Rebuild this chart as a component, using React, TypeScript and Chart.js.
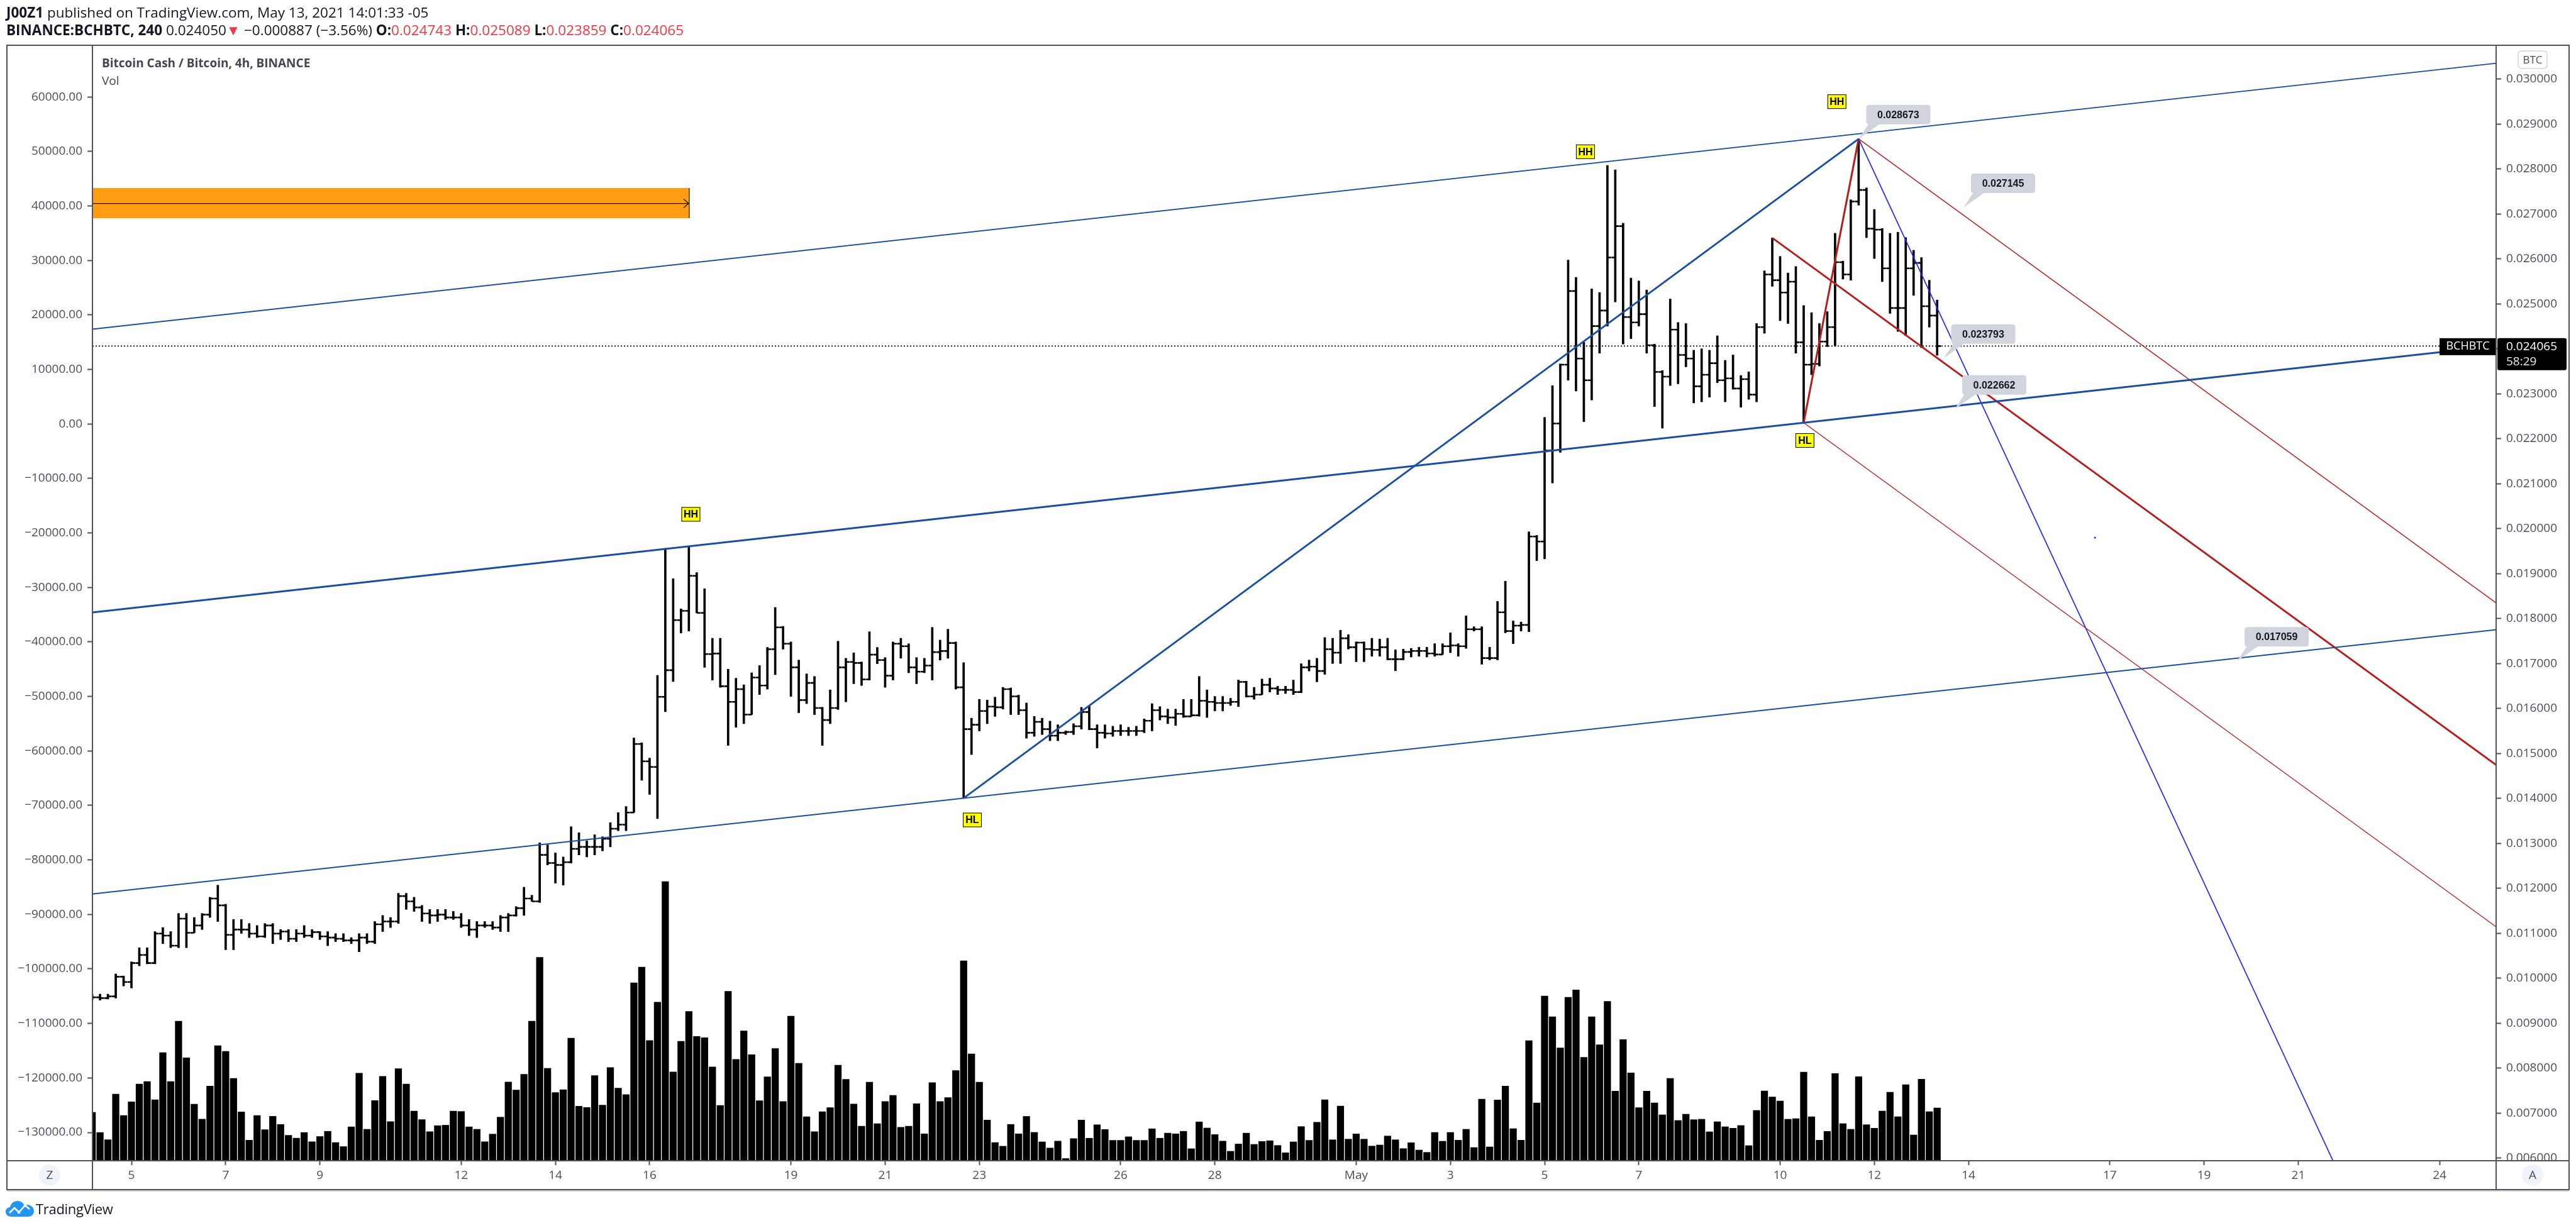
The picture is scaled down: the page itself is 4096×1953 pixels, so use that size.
import React, { useEffect, useRef } from 'react';
import { Chart, registerables } from 'chart.js';

Chart.register(...registerables);

// ---------- time axis (hours since Apr 5, 00:00) ----------
const FIRST_BAR_HOUR = -20; // first 4h bar (Apr 4)
const BAR_HOURS_STEP = 4;
const X_MIN = -19.87;
const X_MAX = 1204.8;

const dateTickHours = [0, 48, 96, 168, 216, 264, 336, 384, 432, 504, 552, 624, 672, 720, 768, 840, 888, 936, 1008, 1056, 1104, 1176];
const dateTickLabels = ['5', '7', '9', '12', '14', '16', '19', '21', '23', '26', '28', 'May', '3', '5', '7', '10', '12', '14', '17', '19', '21', '24'];

// ---------- price axis (BTC) ----------
const PRICE_MIN = 0.005944;
const PRICE_MAX = 0.030755;
const priceTicks = [0.006, 0.007, 0.008, 0.009, 0.010, 0.011, 0.012, 0.013, 0.014, 0.015, 0.016, 0.017, 0.018, 0.019, 0.020, 0.021, 0.022, 0.023, 0.024, 0.025, 0.026, 0.027, 0.028, 0.029, 0.030];

// ---------- left (overlay) axis ----------
const LEFT_MIN = -135192;
const LEFT_MAX = 69496;
const leftTicks = [-130000, -120000, -110000, -100000, -90000, -80000, -70000, -60000, -50000, -40000, -30000, -20000, -10000, 0, 10000, 20000, 30000, 40000, 50000, 60000];

// ---------- volume axis (thousand BCH) ----------
const VOL_MAX = 177.4;

// ---------- OHLC (BCHBTC, 4h) ----------
const opens = [
  0.009600, 0.009578, 0.009561, 0.009600, 0.010036, 0.009920, 0.010341, 0.010520, 0.010341, 0.010996,
  0.010951, 0.010727, 0.011328, 0.011014, 0.011176, 0.011418, 0.011777, 0.011624, 0.010969, 0.011086,
  0.011086, 0.010996, 0.010933, 0.011176, 0.010996, 0.011041, 0.010880, 0.010996, 0.010951, 0.011030,
  0.010933, 0.010907, 0.010880, 0.010844, 0.010844, 0.010907, 0.010817, 0.011203, 0.011265, 0.011265,
  0.011831, 0.011714, 0.011579, 0.011445, 0.011400, 0.011418, 0.011355, 0.011355, 0.011176, 0.011086,
  0.011176, 0.011176, 0.011131, 0.011355, 0.011400, 0.011561, 0.011777, 0.011714, 0.012746, 0.012566,
  0.012522, 0.012584, 0.012881, 0.012925, 0.012925, 0.012925, 0.013105, 0.013329, 0.013419, 0.013688,
  0.015213, 0.014828, 0.014702, 0.016263, 0.016855, 0.017968, 0.018174, 0.018955, 0.018130, 0.017214,
  0.017225, 0.016498, 0.016150, 0.016433, 0.015867, 0.016692, 0.016514, 0.017322, 0.017807, 0.017443,
  0.016918, 0.016191, 0.016571, 0.016013, 0.015746, 0.016013, 0.016918, 0.017039, 0.017015, 0.016651,
  0.017201, 0.017080, 0.016732, 0.017443, 0.017387, 0.016918, 0.016821, 0.016958, 0.017257, 0.017282,
  0.017459, 0.016474, 0.015544, 0.015641, 0.015948, 0.016045, 0.016029, 0.016433, 0.016272, 0.015965,
  0.015463, 0.015706, 0.015544, 0.015399, 0.015463, 0.015480, 0.015609, 0.015924, 0.015544, 0.015463,
  0.015447, 0.015504, 0.015504, 0.015504, 0.015504, 0.015730, 0.015965, 0.015827, 0.015803, 0.015884,
  0.015827, 0.015851, 0.016175, 0.016150, 0.016126, 0.016126, 0.016150, 0.016595, 0.016272, 0.016312,
  0.016530, 0.016449, 0.016417, 0.016417, 0.016369, 0.016918, 0.016934, 0.016837, 0.017322, 0.017244,
  0.017565, 0.017365, 0.017469, 0.017324, 0.017308, 0.017365, 0.017100, 0.017100, 0.017260, 0.017284,
  0.017284, 0.017228, 0.017204, 0.017389, 0.017405, 0.017389, 0.017766, 0.017766, 0.017124, 0.017124,
  0.018143, 0.017726, 0.017846, 0.017862, 0.019829, 0.019717, 0.021740, 0.022342, 0.023651, 0.025288,
  0.023787, 0.023305, 0.024509, 0.024855, 0.026035, 0.026733, 0.024710, 0.024590, 0.024774, 0.024084,
  0.023490, 0.023385, 0.024429, 0.023867, 0.023787, 0.023169, 0.023426, 0.023683, 0.023305, 0.023345,
  0.023121, 0.023329, 0.022984, 0.024485, 0.025657, 0.025529, 0.025256, 0.025497, 0.024148, 0.023651,
  0.023667, 0.024164, 0.024485, 0.025930, 0.025657, 0.027279, 0.027536, 0.026677, 0.026653, 0.025794,
  0.024911, 0.024911, 0.025794, 0.025914, 0.024951, 0.024743,
];

const highs = [
  0.009650, 0.009650, 0.009650, 0.010099, 0.010054, 0.010368, 0.010682, 0.010682, 0.011041, 0.011131,
  0.011041, 0.011445, 0.011445, 0.011355, 0.011445, 0.011804, 0.012073, 0.011650, 0.011310, 0.011310,
  0.011221, 0.011176, 0.011221, 0.011221, 0.011086, 0.011086, 0.011086, 0.011176, 0.011086, 0.011041,
  0.011041, 0.010996, 0.010996, 0.010907, 0.010996, 0.010996, 0.011265, 0.011400, 0.011355, 0.011893,
  0.011893, 0.011804, 0.011624, 0.011534, 0.011534, 0.011534, 0.011490, 0.011445, 0.011310, 0.011265,
  0.011265, 0.011265, 0.011400, 0.011445, 0.011597, 0.012028, 0.011849, 0.013015, 0.012970, 0.012791,
  0.012701, 0.013374, 0.013239, 0.013060, 0.013195, 0.013150, 0.013464, 0.013688, 0.013823, 0.015348,
  0.015240, 0.014899, 0.016739, 0.019565, 0.018892, 0.018219, 0.019610, 0.019027, 0.018668, 0.017565,
  0.017565, 0.016878, 0.016676, 0.016530, 0.016797, 0.016958, 0.017362, 0.018251, 0.017830, 0.017484,
  0.017080, 0.016773, 0.016716, 0.016029, 0.016417, 0.017500, 0.017120, 0.017241, 0.017039, 0.017710,
  0.017362, 0.017136, 0.017484, 0.017565, 0.017443, 0.017136, 0.017120, 0.017807, 0.017524, 0.017767,
  0.017484, 0.017023, 0.015787, 0.016207, 0.016191, 0.016255, 0.016474, 0.016460, 0.016300, 0.016126,
  0.015827, 0.015787, 0.015722, 0.015641, 0.015504, 0.015665, 0.016029, 0.016070, 0.015641, 0.015641,
  0.015609, 0.015641, 0.015585, 0.015609, 0.015771, 0.016110, 0.016045, 0.015989, 0.015989, 0.016207,
  0.016207, 0.016716, 0.016417, 0.016272, 0.016272, 0.016230, 0.016635, 0.016611, 0.016474, 0.016659,
  0.016676, 0.016498, 0.016498, 0.016635, 0.016999, 0.017080, 0.017120, 0.017581, 0.017565, 0.017742,
  0.017645, 0.017485, 0.017485, 0.017565, 0.017549, 0.017565, 0.017308, 0.017324, 0.017340, 0.017365,
  0.017365, 0.017445, 0.017445, 0.017686, 0.017445, 0.018063, 0.017822, 0.017822, 0.017365, 0.018384,
  0.018834, 0.017951, 0.017927, 0.019934, 0.019853, 0.022478, 0.023185, 0.023667, 0.025979, 0.025593,
  0.024148, 0.025336, 0.025256, 0.028082, 0.027986, 0.026797, 0.025577, 0.025513, 0.025312, 0.024108,
  0.023520, 0.025112, 0.024590, 0.024566, 0.023972, 0.024004, 0.023972, 0.024293, 0.023747, 0.023867,
  0.023410, 0.023490, 0.024566, 0.025738, 0.026470, 0.026059, 0.025690, 0.025834, 0.024967, 0.024807,
  0.024566, 0.024831, 0.026573, 0.025955, 0.027319, 0.028673, 0.027584, 0.027103, 0.026680, 0.026573,
  0.026597, 0.026476, 0.026195, 0.026035, 0.025529, 0.025089,
];

const lows = [
  0.009516, 0.009516, 0.009540, 0.009561, 0.009830, 0.009785, 0.010278, 0.010323, 0.010323, 0.010772,
  0.010682, 0.010682, 0.010682, 0.011014, 0.011086, 0.011355, 0.011265, 0.010637, 0.010637, 0.011000,
  0.010907, 0.010907, 0.010907, 0.010772, 0.010862, 0.010817, 0.010817, 0.010907, 0.010907, 0.010862,
  0.010727, 0.010817, 0.010817, 0.010772, 0.010592, 0.010772, 0.010772, 0.011041, 0.011131, 0.011221,
  0.011534, 0.011490, 0.011265, 0.011221, 0.011265, 0.011310, 0.011310, 0.011131, 0.010951, 0.010907,
  0.011131, 0.011086, 0.011041, 0.011041, 0.011382, 0.011400, 0.011714, 0.011687, 0.012522, 0.012118,
  0.012073, 0.012566, 0.012746, 0.012701, 0.012746, 0.012836, 0.012925, 0.013284, 0.013284, 0.013688,
  0.014406, 0.014092, 0.013553, 0.015931, 0.016604, 0.017681, 0.017726, 0.018130, 0.016918, 0.016635,
  0.016474, 0.015181, 0.015585, 0.015665, 0.015867, 0.016312, 0.016433, 0.016756, 0.017322, 0.016272,
  0.015908, 0.016110, 0.015867, 0.015181, 0.015665, 0.015980, 0.016150, 0.016554, 0.016514, 0.016635,
  0.016999, 0.016474, 0.016635, 0.017120, 0.016797, 0.016554, 0.016797, 0.016635, 0.017080, 0.017120,
  0.016433, 0.014009, 0.014978, 0.015504, 0.015665, 0.015827, 0.015989, 0.015867, 0.015867, 0.015342,
  0.015383, 0.015423, 0.015286, 0.015286, 0.015423, 0.015423, 0.015544, 0.015528, 0.015124, 0.015342,
  0.015383, 0.015399, 0.015399, 0.015399, 0.015463, 0.015504, 0.015746, 0.015665, 0.015625, 0.015803,
  0.015827, 0.015830, 0.015803, 0.015948, 0.015948, 0.016070, 0.016045, 0.016255, 0.016207, 0.016312,
  0.016369, 0.016312, 0.016336, 0.016312, 0.016352, 0.016837, 0.016595, 0.016763, 0.017003, 0.017003,
  0.017324, 0.017043, 0.017043, 0.017164, 0.017164, 0.017084, 0.016843, 0.017084, 0.017148, 0.017164,
  0.017148, 0.017164, 0.017204, 0.017244, 0.017164, 0.017340, 0.017726, 0.016987, 0.017084, 0.017084,
  0.017686, 0.017445, 0.017726, 0.017710, 0.019291, 0.019331, 0.021017, 0.021700, 0.023305, 0.023064,
  0.022382, 0.022864, 0.023907, 0.024509, 0.025047, 0.024108, 0.024229, 0.024509, 0.023907, 0.022719,
  0.022238, 0.023185, 0.023225, 0.023602, 0.022800, 0.022824, 0.022928, 0.023249, 0.022824, 0.023105,
  0.022703, 0.022880, 0.022824, 0.024349, 0.025393, 0.024630, 0.024566, 0.023907, 0.022360, 0.023426,
  0.023620, 0.024052, 0.024068, 0.025553, 0.025529, 0.027199, 0.026476, 0.026011, 0.025497, 0.024790,
  0.024389, 0.024293, 0.025192, 0.024028, 0.024485, 0.023859,
];

const closes = [
  0.009578, 0.009561, 0.009600, 0.010036, 0.009920, 0.010341, 0.010520, 0.010341, 0.010996, 0.010951,
  0.010727, 0.011328, 0.011014, 0.011176, 0.011418, 0.011777, 0.011624, 0.010969, 0.011086, 0.011086,
  0.010996, 0.010933, 0.011176, 0.010996, 0.011041, 0.010880, 0.010996, 0.010951, 0.011030, 0.010933,
  0.010907, 0.010880, 0.010844, 0.010844, 0.010907, 0.010817, 0.011203, 0.011265, 0.011265, 0.011831,
  0.011714, 0.011579, 0.011445, 0.011400, 0.011418, 0.011355, 0.011355, 0.011176, 0.011086, 0.011176,
  0.011176, 0.011131, 0.011355, 0.011400, 0.011561, 0.011777, 0.011714, 0.012746, 0.012566, 0.012522,
  0.012584, 0.012881, 0.012925, 0.012925, 0.012925, 0.013105, 0.013329, 0.013419, 0.013688, 0.015213,
  0.014828, 0.014702, 0.016263, 0.016855, 0.017968, 0.018174, 0.018955, 0.018130, 0.017214, 0.017225,
  0.016498, 0.016150, 0.016433, 0.015867, 0.016692, 0.016514, 0.017322, 0.017807, 0.017443, 0.016918,
  0.016191, 0.016571, 0.016013, 0.015746, 0.016013, 0.016918, 0.017039, 0.017015, 0.016651, 0.017201,
  0.017080, 0.016732, 0.017443, 0.017387, 0.016918, 0.016821, 0.016958, 0.017257, 0.017282, 0.017459,
  0.016474, 0.015544, 0.015641, 0.015948, 0.016045, 0.016029, 0.016433, 0.016272, 0.015965, 0.015463,
  0.015706, 0.015544, 0.015399, 0.015463, 0.015480, 0.015609, 0.015924, 0.015544, 0.015463, 0.015447,
  0.015504, 0.015504, 0.015504, 0.015504, 0.015730, 0.015965, 0.015827, 0.015803, 0.015884, 0.015827,
  0.015851, 0.016175, 0.016150, 0.016126, 0.016126, 0.016150, 0.016595, 0.016272, 0.016312, 0.016530,
  0.016449, 0.016417, 0.016417, 0.016369, 0.016918, 0.016934, 0.016837, 0.017322, 0.017244, 0.017565,
  0.017365, 0.017469, 0.017324, 0.017308, 0.017365, 0.017100, 0.017100, 0.017260, 0.017284, 0.017284,
  0.017228, 0.017204, 0.017389, 0.017405, 0.017389, 0.017766, 0.017766, 0.017124, 0.017124, 0.018143,
  0.017726, 0.017846, 0.017862, 0.019829, 0.019717, 0.021740, 0.022342, 0.023651, 0.025288, 0.023787,
  0.023305, 0.024509, 0.024855, 0.026035, 0.026733, 0.024710, 0.024590, 0.024774, 0.024084, 0.023490,
  0.023385, 0.024429, 0.023867, 0.023787, 0.023169, 0.023426, 0.023683, 0.023305, 0.023345, 0.023121,
  0.023329, 0.022984, 0.024485, 0.025657, 0.025529, 0.025256, 0.025497, 0.024148, 0.023651, 0.023667,
  0.024164, 0.024485, 0.025930, 0.025657, 0.027279, 0.027536, 0.026677, 0.026653, 0.025794, 0.024911,
  0.024911, 0.025794, 0.025914, 0.024951, 0.024743, 0.024065,
];

const volumesK = [
  7.70, 4.49, 3.34, 10.59, 7.19, 9.37, 12.19, 12.58, 9.69, 17.20,
  12.58, 22.20, 16.36, 8.98, 6.61, 11.87, 18.29, 17.39, 13.09, 7.76,
  3.27, 7.19, 4.94, 7.06, 5.77, 4.04, 3.59, 4.49, 3.02, 3.85,
  4.68, 2.89, 2.25, 5.39, 13.92, 5.00, 9.56, 13.41, 6.22, 14.63,
  12.19, 7.89, 6.54, 4.62, 5.58, 5.65, 7.89, 7.83, 5.39, 5.00,
  3.02, 4.23, 6.93, 12.51, 11.23, 13.73, 22.20, 32.34, 14.69, 10.84,
  11.29, 19.50, 8.66, 8.47, 13.54, 8.85, 14.82, 11.55, 10.52, 28.29,
  30.80, 19.12, 25.21, 44.40, 14.12, 18.99, 23.74, 19.76, 19.57, 14.91,
  8.78, 26.93, 16.12, 20.63, 16.87, 9.53, 13.35, 17.85, 9.42, 23.00,
  15.49, 6.99, 4.62, 7.80, 8.44, 15.20, 12.94, 9.01, 5.49, 12.48,
  5.89, 9.42, 10.40, 5.32, 5.49, 9.07, 4.28, 12.42, 9.42, 10.05,
  14.33, 31.78, 16.99, 12.48, 6.47, 2.89, 2.31, 5.78, 4.28, 7.05,
  4.51, 3.00, 2.02, 3.12, 0.35, 3.52, 6.47, 3.58, 5.72, 4.97,
  3.24, 3.24, 3.81, 3.24, 3.24, 5.08, 3.58, 4.39, 4.28, 4.68,
  1.91, 6.18, 5.20, 4.16, 3.12, 1.50, 2.66, 4.39, 2.60, 3.06,
  3.18, 2.43, 1.27, 3.00, 5.43, 3.24, 6.12, 9.70, 3.33, 8.70,
  3.43, 4.27, 3.43, 2.33, 2.50, 3.93, 3.33, 1.93, 2.87, 1.70,
  1.33, 4.50, 3.10, 4.50, 3.27, 5.00, 2.10, 9.80, 2.20, 9.67,
  11.87, 5.10, 3.27, 19.10, 9.20, 26.20, 22.90, 17.93, 26.00, 27.17,
  16.43, 22.90, 18.43, 25.33, 11.07, 19.27, 13.97, 8.43, 11.07, 9.20,
  7.30, 13.10, 6.40, 7.40, 6.53, 6.60, 4.60, 6.20, 5.40, 5.17,
  5.60, 2.40, 8.00, 11.10, 10.13, 9.50, 6.60, 6.70, 14.10, 7.00,
  3.27, 4.67, 13.87, 5.90, 5.00, 13.37, 5.73, 5.17, 7.90, 10.90,
  7.00, 12.10, 4.10, 12.97, 7.80, 8.40,
];

const barHours = closes.map((_, i) => FIRST_BAR_HOUR + i * BAR_HOURS_STEP);

const LAST_PRICE = 0.024065;

// ---------- drawings: anchor points [hour, price] ----------
const channelUpper = [[-16, 0.024460], [880, 0.028786]];
const channelMiddle = [[284, 0.019610], [852, 0.022360]];
const channelLower = [[-16, 0.011895], [424, 0.014007]];
const riseSegment = [[424, 0.014009], [880, 0.028673]];
const pitchA = [836, 0.026470];
const pitchB = [852, 0.022360];
const pitchC = [880, 0.028673];
const steepLine = [[880, 0.028673], [1071.7, 0.010643]];
const strayDot = [1000.4, 0.019804];

const swingHours = [285.0, 428.4, 740.8, 868.9, 852.6];
const swingPrices = [0.020322, 0.013524, 0.028387, 0.029501, 0.021965];
const swingTexts = ['HH', 'HL', 'HH', 'HH', 'HL'];

const calloutHours = [880, 933.4, 923.3, 928.9, 1072.8];
const calloutPrices = [0.028673, 0.027145, 0.023793, 0.022662, 0.017059];

const rangeBox = { startHour: -60, endHour: 284.2, top: 0.027580, bottom: 0.026909, mid: 0.027236 };

// ---------- styles ----------
const FONT = '"Open Sans", "Noto Sans", sans-serif';
const LABEL_FONT = '"Liberation Sans", Arial, sans-serif';
const FRAME = '#50535e';
const AXIS_TEXT = '#4a4e59';
const BLUE = '#1a4ea3';
const BRIGHT_BLUE = '#2424ff';
const RED = '#b71c1c';
const PAD = { left: 11, right: 11, top: 72, bottom: 61 };
const LEFT_AXIS_W = 136;
const RIGHT_AXIS_W = 116;
const DATE_AXIS_H = 46;

function extend(p1: number[], p2: number[], hFrom: number, hTo: number) {
  const s = (p2[1] - p1[1]) / (p2[0] - p1[0]);
  return [
    { x: hFrom, y: p1[1] + s * (hFrom - p1[0]) },
    { x: hTo, y: p1[1] + s * (hTo - p1[0]) },
  ];
}

function roundRect(ctx: CanvasRenderingContext2D, x: number, y: number, w: number, h: number, r: number) {
  ctx.beginPath();
  ctx.moveTo(x + r, y);
  ctx.lineTo(x + w - r, y);
  ctx.quadraticCurveTo(x + w, y, x + w, y + r);
  ctx.lineTo(x + w, y + h - r);
  ctx.quadraticCurveTo(x + w, y + h, x + w - r, y + h);
  ctx.lineTo(x + r, y + h);
  ctx.quadraticCurveTo(x, y + h, x, y + h - r);
  ctx.lineTo(x, y + r);
  ctx.quadraticCurveTo(x, y, x + r, y);
  ctx.closePath();
}

const HL_INDEX = 1;

const tvPlugin = {
  id: 'tvDecor',
  beforeDatasetsDraw(chart: any) {
    const { ctx, chartArea: a } = chart;
    const xs = chart.scales.x;
    const ys = chart.scales.y;
    ctx.save();
    ctx.beginPath();
    ctx.rect(a.left, a.top, a.right - a.left, a.bottom - a.top);
    ctx.clip();
    const x0 = xs.getPixelForValue(rangeBox.startHour);
    const x1 = xs.getPixelForValue(rangeBox.endHour);
    const yt = ys.getPixelForValue(rangeBox.top);
    const yb = ys.getPixelForValue(rangeBox.bottom);
    const ym = ys.getPixelForValue(rangeBox.mid);
    ctx.fillStyle = '#ff9c12';
    ctx.fillRect(x0, yt, x1 - x0, yb - yt);
    ctx.strokeStyle = '#3a3a3a';
    ctx.lineWidth = 1.5;
    ctx.beginPath();
    ctx.moveTo(x1, yt);
    ctx.lineTo(x1, yb);
    ctx.stroke();
    ctx.strokeStyle = '#111';
    ctx.lineWidth = 1.3;
    ctx.beginPath();
    ctx.moveTo(x0, ym);
    ctx.lineTo(x1 - 1, ym);
    ctx.moveTo(x1 - 9, ym - 7);
    ctx.lineTo(x1 - 1, ym);
    ctx.lineTo(x1 - 9, ym + 7);
    ctx.stroke();
    ctx.restore();
  },
  afterDatasetDraw(chart: any, args: any) {
    if (args.index !== HL_INDEX) return;
    const { ctx, chartArea: a } = chart;
    const xs = chart.scales.x;
    const ys = chart.scales.y;
    ctx.save();
    ctx.beginPath();
    ctx.rect(a.left, a.top, a.right - a.left, a.bottom - a.top);
    ctx.clip();
    ctx.strokeStyle = '#000';
    ctx.lineWidth = 2.6;
    ctx.beginPath();
    for (let i = 0; i < barHours.length; i++) {
      const px = xs.getPixelForValue(barHours[i]);
      const yo = ys.getPixelForValue(opens[i]);
      const yc = ys.getPixelForValue(closes[i]);
      ctx.moveTo(px - 6, yo);
      ctx.lineTo(px, yo);
      ctx.moveTo(px, yc);
      ctx.lineTo(px + 6, yc);
    }
    ctx.stroke();
    ctx.restore();
  },
  afterDatasetsDraw(chart: any) {
    const { ctx, chartArea: a } = chart;
    const xs = chart.scales.x;
    const ys = chart.scales.y;
    ctx.save();
    ctx.beginPath();
    ctx.rect(a.left, a.top, a.right - a.left, a.bottom - a.top);
    ctx.clip();
    // price callouts
    for (let i = 0; i < calloutHours.length; i++) {
      const tx = xs.getPixelForValue(calloutHours[i]);
      const ty = ys.getPixelForValue(calloutPrices[i]);
      const bw = 102, bh = 31;
      const bx = tx + 12;
      const by = ty - 23 - bh;
      ctx.fillStyle = '#d1d4dc';
      ctx.beginPath();
      ctx.moveTo(tx, ty);
      ctx.lineTo(bx + 4, by + bh - 1);
      ctx.lineTo(bx + 22, by + bh - 1);
      ctx.closePath();
      ctx.fill();
      roundRect(ctx, bx, by, bw, bh, 5);
      ctx.fill();
      ctx.fillStyle = '#131722';
      ctx.font = `bold 16px ${LABEL_FONT}`;
      ctx.textAlign = 'center';
      ctx.textBaseline = 'middle';
      ctx.fillText(calloutPrices[i].toFixed(6), bx + bw / 2, by + bh / 2 + 1);
    }
    // swing labels
    for (let i = 0; i < swingHours.length; i++) {
      const cx = xs.getPixelForValue(swingHours[i]);
      const cy = ys.getPixelForValue(swingPrices[i]);
      const w = 30, h = 23;
      ctx.fillStyle = '#ffff00';
      ctx.fillRect(cx - w / 2, cy - h / 2, w, h);
      ctx.strokeStyle = '#000';
      ctx.lineWidth = 1;
      ctx.strokeRect(cx - w / 2 + 0.5, cy - h / 2 + 0.5, w - 1, h - 1);
      ctx.fillStyle = '#000';
      ctx.font = `bold 16px ${LABEL_FONT}`;
      ctx.textAlign = 'center';
      ctx.textBaseline = 'middle';
      ctx.fillText(swingTexts[i], cx, cy + 1);
    }
    ctx.restore();
  },
  afterDraw(chart: any) {
    const { ctx, chartArea: a } = chart;
    const ys = chart.scales.y;
    const W = chart.width, H = chart.height;
    const fl = PAD.left, fr = W - PAD.right, ft = PAD.top, fb = H - PAD.bottom;
    ctx.save();
    // hide the part of the bottom price label running into the date row
    ctx.fillStyle = '#ffffff';
    ctx.fillRect(a.right + 1, a.bottom + 1, fr - a.right - 2, fb - a.bottom - 2);
    ctx.fillRect(fl + 1, a.bottom + 1, a.left - fl - 2, fb - a.bottom - 2);
    // frame
    ctx.strokeStyle = FRAME;
    ctx.lineWidth = 2;
    ctx.strokeRect(fl, ft, fr - fl, fb - ft);
    ctx.beginPath();
    ctx.moveTo(a.left, ft); ctx.lineTo(a.left, fb);
    ctx.moveTo(a.right, ft); ctx.lineTo(a.right, fb);
    ctx.moveTo(fl, a.bottom); ctx.lineTo(fr, a.bottom);
    ctx.stroke();
    ctx.strokeStyle = '#d1d4dc';
    ctx.beginPath();
    ctx.moveTo(fl, fb + 2); ctx.lineTo(fr, fb + 2);
    ctx.stroke();
    // Z / A buttons
    const cy = (a.bottom + fb) / 2;
    const circles: [number, string][] = [[(fl + a.left) / 2, 'Z'], [(a.right + fr) / 2, 'A']];
    for (const [cx, t] of circles) {
      ctx.fillStyle = '#f0f3fa';
      ctx.beginPath();
      ctx.arc(cx, cy, 17, 0, Math.PI * 2);
      ctx.fill();
      ctx.fillStyle = AXIS_TEXT;
      ctx.font = `19px ${FONT}`;
      ctx.textAlign = 'center';
      ctx.textBaseline = 'middle';
      ctx.fillText(t, cx, cy + 1);
    }
    // BTC currency box
    const bcx = (a.right + fr) / 2;
    roundRect(ctx, bcx - 23, ft + 9, 46, 28, 6);
    ctx.fillStyle = '#ffffff';
    ctx.fill();
    ctx.strokeStyle = '#d1d4dc';
    ctx.lineWidth = 1.5;
    ctx.stroke();
    ctx.fillStyle = AXIS_TEXT;
    ctx.font = `17px ${FONT}`;
    ctx.textAlign = 'center';
    ctx.textBaseline = 'middle';
    ctx.fillText('BTC', bcx, ft + 24);
    // last price labels
    const py = ys.getPixelForValue(LAST_PRICE);
    ctx.fillStyle = '#000000';
    roundRect(ctx, a.right + 2, py - 12.5, fr - a.right - 6, 51, 3);
    ctx.fill();
    ctx.fillRect(a.right - 90, py - 12.5, 89, 27);
    ctx.fillStyle = '#ffffff';
    ctx.font = `18px ${FONT}`;
    ctx.textAlign = 'center';
    ctx.fillText('BCHBTC', a.right - 45, py + 1);
    ctx.textAlign = 'left';
    ctx.font = `19px ${FONT}`;
    ctx.fillText(LAST_PRICE.toFixed(6), a.right + 16, py + 1);
    ctx.fillStyle = '#e6e8ee';
    ctx.fillText('58:29', a.right + 16, py + 25);
    ctx.restore();
  },
};

export default function App() {
  const canvasRef = useRef<HTMLCanvasElement | null>(null);

  useEffect(() => {
    document.body.style.margin = '0';
    document.body.style.overflow = 'hidden';
    const canvas = canvasRef.current;
    if (!canvas) return;

    const lineDs = (data: any[], color: string, width: number, extra: any = {}) => ({
      type: 'line',
      data,
      yAxisID: 'y',
      borderColor: color,
      borderWidth: width,
      pointRadius: 0,
      fill: false,
      tension: 0,
      order: 1,
      ...extra,
    });

    const mid = [(pitchB[0] + pitchC[0]) / 2, (pitchB[1] + pitchC[1]) / 2];
    const fs = (mid[1] - pitchA[1]) / (mid[0] - pitchA[0]);
    const tine = (p: number[]) => [
      { x: p[0], y: p[1] },
      { x: X_MAX, y: p[1] + fs * (X_MAX - p[0]) },
    ];

    const chart = new Chart(canvas, {
      type: 'bar',
      data: {
        datasets: [
          {
            type: 'bar',
            data: barHours.map((h, i) => ({ x: h, y: volumesK[i] })),
            yAxisID: 'vol',
            backgroundColor: '#000000',
            borderWidth: 0,
            barThickness: 10.6,
            grouped: false,
            order: 6,
          } as any,
          {
            type: 'bar',
            data: barHours.map((h, i) => ({ x: h, y: [lows[i], highs[i]] })),
            yAxisID: 'y',
            backgroundColor: '#000000',
            borderWidth: 0,
            barThickness: 3,
            grouped: false,
            order: 4,
          } as any,
          lineDs([{ x: X_MIN, y: LAST_PRICE }, { x: X_MAX, y: LAST_PRICE }], '#000000', 1.6, { borderDash: [2, 3], order: 5 }),
          lineDs(extend(channelUpper[0], channelUpper[1], X_MIN, X_MAX), BLUE, 1.9),
          lineDs(extend(channelMiddle[0], channelMiddle[1], X_MIN, X_MAX), BLUE, 3),
          lineDs(extend(channelLower[0], channelLower[1], X_MIN, X_MAX), BLUE, 1.9),
          lineDs(riseSegment.map((p) => ({ x: p[0], y: p[1] })), BLUE, 3),
          lineDs(tine(pitchC), RED, 1.4),
          lineDs(tine(pitchB), RED, 1.4),
          lineDs(tine(pitchA), RED, 3),
          lineDs([{ x: pitchB[0], y: pitchB[1] }, { x: pitchC[0], y: pitchC[1] }], RED, 3),
          lineDs(extend(steepLine[0], steepLine[1], steepLine[0][0], X_MAX), BRIGHT_BLUE, 1.7),
          lineDs([{ x: strayDot[0], y: strayDot[1] }], BRIGHT_BLUE, 0, { pointRadius: 1.6, pointBackgroundColor: BRIGHT_BLUE, showLine: false }),
        ] as any,
      },
      options: {
        responsive: false,
        animation: false,
        devicePixelRatio: 1,
        events: [],
        layout: { padding: PAD },
        plugins: { legend: { display: false }, tooltip: { enabled: false } },
        scales: {
          x: {
            type: 'linear',
            position: 'bottom',
            min: X_MIN,
            max: X_MAX,
            offset: false,
            afterBuildTicks: (s: any) => { s.ticks = dateTickHours.map((v) => ({ value: v })); },
            afterFit: (s: any) => { s.height = DATE_AXIS_H; },
            ticks: {
              autoSkip: false,
              maxRotation: 0,
              padding: 5,
              color: AXIS_TEXT,
              font: { family: FONT, size: 19 },
              callback: (_v: any, i: number) => dateTickLabels[i],
            },
            grid: { drawOnChartArea: false, drawTicks: true, tickLength: 7, tickColor: FRAME, tickWidth: 2, offset: false },
            border: { display: true, color: FRAME, width: 2 },
          },
          y: {
            type: 'linear',
            position: 'right',
            min: PRICE_MIN,
            max: PRICE_MAX,
            afterBuildTicks: (s: any) => { s.ticks = priceTicks.map((v) => ({ value: v })); },
            afterFit: (s: any) => { s.width = RIGHT_AXIS_W; },
            ticks: {
              autoSkip: false,
              padding: 8,
              color: AXIS_TEXT,
              font: { family: FONT, size: 19 },
              callback: (v: any) => Number(v).toFixed(6),
            },
            grid: { drawOnChartArea: false, drawTicks: true, tickLength: 8, tickColor: FRAME, tickWidth: 2 },
            border: { display: true, color: FRAME, width: 2 },
          },
          left: {
            type: 'linear',
            position: 'left',
            min: LEFT_MIN,
            max: LEFT_MAX,
            afterBuildTicks: (s: any) => { s.ticks = leftTicks.map((v) => ({ value: v })); },
            afterFit: (s: any) => { s.width = LEFT_AXIS_W; },
            ticks: {
              autoSkip: false,
              padding: 8,
              color: AXIS_TEXT,
              font: { family: FONT, size: 19 },
              callback: (v: any) => (Number(v) < 0 ? '\u2212' : '') + Math.abs(Number(v)).toFixed(2),
            },
            grid: { drawOnChartArea: false, drawTicks: true, tickLength: 8, tickColor: FRAME, tickWidth: 2 },
            border: { display: true, color: FRAME, width: 2 },
          },
          vol: { type: 'linear', display: false, min: 0, max: VOL_MAX },
        },
      } as any,
      plugins: [tvPlugin as any],
    });
    return () => chart.destroy();
  }, []);

  const red = { color: '#f23645' };
  const textBase: React.CSSProperties = { position: 'absolute', whiteSpace: 'nowrap', fontFamily: FONT, color: '#131722', lineHeight: '28px' };

  return (
    <div style={{ position: 'absolute', left: 0, top: 0, width: 4096, height: 1953, overflow: 'hidden', background: '#ffffff' }}>
      <canvas ref={canvasRef} width={4096} height={1953} style={{ position: 'absolute', left: 0, top: 0, width: 4096, height: 1953 }} />
      <div style={{ ...textBase, left: 10, top: 6, fontSize: 22.5 }}>
        <b>J00Z1</b> published on TradingView.com, May 13, 2021 14:01:33 -05
      </div>
      <div style={{ ...textBase, left: 10, top: 34, fontSize: 22.5 }}>
        <b>BINANCE:BCHBTC, 240</b> 0.024050<span style={red}>▼</span> −0.000887 (−3.56%) <b>O:</b><span style={red}>0.024743</span> <b>H:</b><span style={red}>0.025089</span> <b>L:</b><span style={red}>0.023859</span> <b>C:</b><span style={red}>0.024065</span>
      </div>
      <div style={{ ...textBase, lineHeight: '24px', left: 162, top: 88, fontSize: 19, fontWeight: 700, color: '#434651' }}>
        Bitcoin Cash / Bitcoin, 4h, BINANCE
      </div>
      <div style={{ ...textBase, lineHeight: '24px', left: 162, top: 116, fontSize: 19, color: '#434651' }}>Vol</div>
      <svg width="46" height="28" viewBox="0 0 46 28" style={{ position: 'absolute', left: 9, top: 1908 }}>
        <path d="M9 27 C3 27 0 23 0 19 C0 15 3 12 7 12 C8 6 13 2 19 2 C24 2 28 5 30 9 C31 8.5 33 8 34 8 C40 8 45 12.5 45 18 C45 23 41 27 36 27 Z" fill="#2196f3" />
        <polyline points="6,21 14,13 21,20 31,9 38,15" fill="none" stroke="#ffffff" strokeWidth="2.6" strokeLinejoin="round" />
        <circle cx="21" cy="20" r="2.4" fill="#ffffff" />
        <circle cx="31" cy="9" r="2.4" fill="#ffffff" />
      </svg>
      <div style={{ ...textBase, lineHeight: '24px', left: 57, top: 1910, fontSize: 22, letterSpacing: '-0.3px' }}>TradingView</div>
    </div>
  );
}
